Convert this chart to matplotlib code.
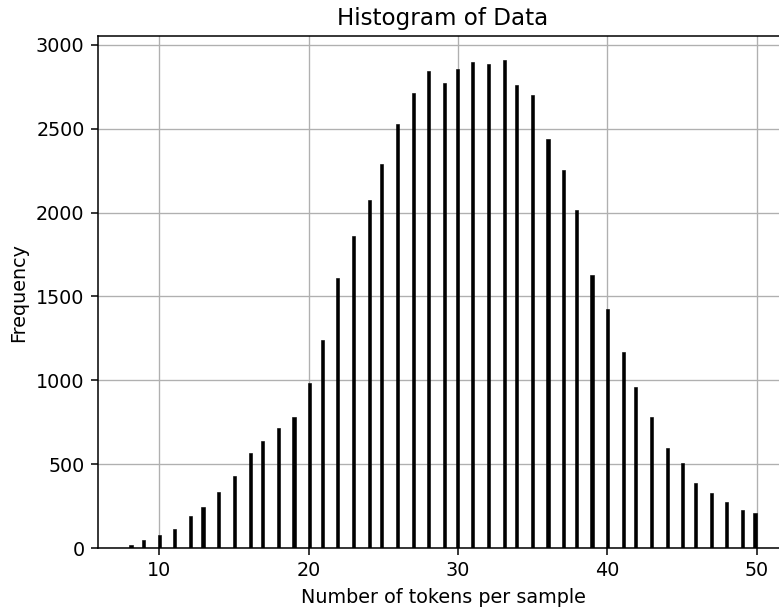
import numpy as np
from matplotlib import pyplot as plt

# token counts per sample and how many samples have each count
tokens = np.arange(8, 51)
counts = [20, 46, 76, 115, 193, 243, 332, 431, 565, 636,
          714, 780, 986, 1240, 1612, 1861, 2075, 2288, 2529, 2712,
          2847, 2771, 2859, 2900, 2885, 2908, 2759, 2702, 2439, 2256,
          2016, 1630, 1423, 1167, 962, 779, 598, 505, 388, 326,
          276, 227, 207]

DPI = 138
W, H = 779, 612


def plot_histogram(x, weights, bins=200, title='Histogram of Data'):
    fig = plt.figure(figsize=(W / DPI, H / DPI), dpi=DPI)
    ax = fig.add_axes([98 / W, 64 / H, 690 / W, 512 / H])
    ax.hist(x, bins=bins, weights=weights, color='black', edgecolor='black', linewidth=0.3)
    ax.set_xlabel('Number of tokens per sample')
    ax.set_ylabel('Frequency')
    ax.set_title(title)
    ax.grid(True, linewidth=0.7)
    ax.set_axisbelow(True)
    return fig


fig = plot_histogram(tokens, counts)
fig.savefig('out.png', dpi=DPI)
